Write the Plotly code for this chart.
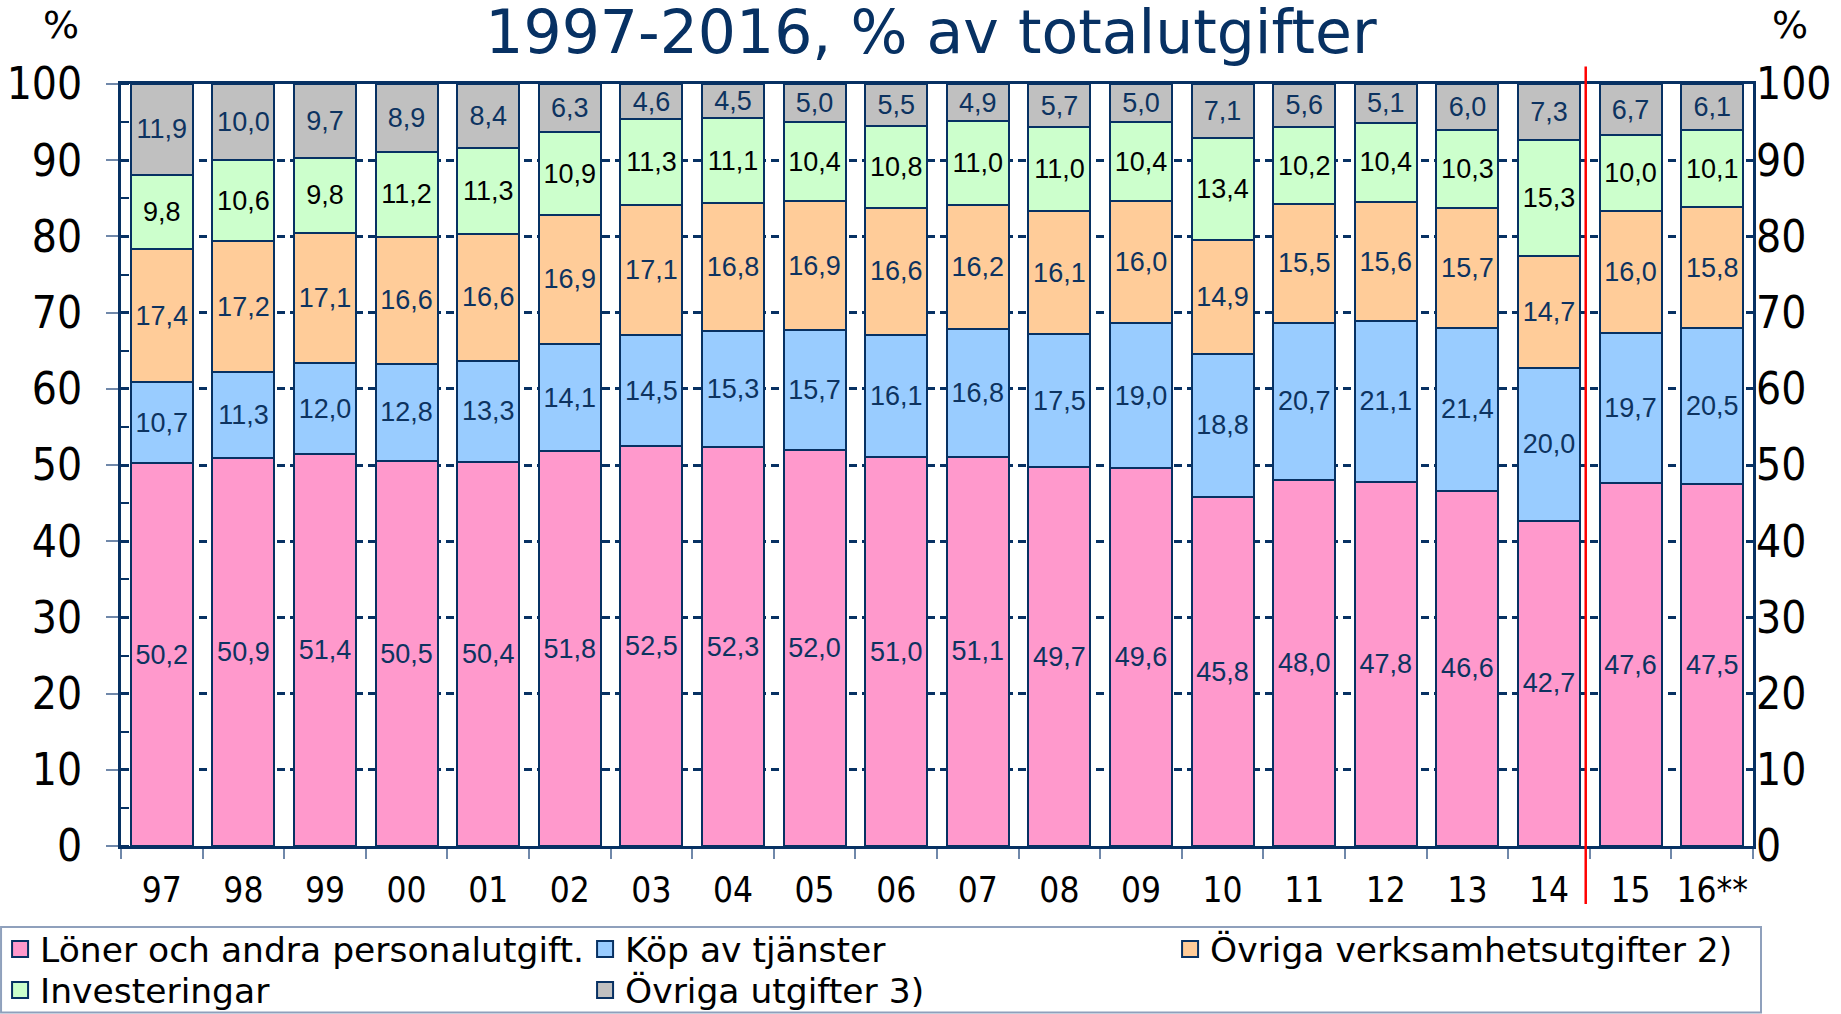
import plotly.graph_objects as go

years = ["97", "98", "99", "00", "01", "02", "03", "04", "05", "06",
         "07", "08", "09", "10", "11", "12", "13", "14", "15", "16**"]

loner = [50.2, 50.9, 51.4, 50.5, 50.4, 51.8, 52.5, 52.3, 52.0, 51.0,
         51.1, 49.7, 49.6, 45.8, 48.0, 47.8, 46.6, 42.7, 47.6, 47.5]
kop = [10.7, 11.3, 12.0, 12.8, 13.3, 14.1, 14.5, 15.3, 15.7, 16.1,
       16.8, 17.5, 19.0, 18.8, 20.7, 21.1, 21.4, 20.0, 19.7, 20.5]
ovr_verks = [17.4, 17.2, 17.1, 16.6, 16.6, 16.9, 17.1, 16.8, 16.9, 16.6,
             16.2, 16.1, 16.0, 14.9, 15.5, 15.6, 15.7, 14.7, 16.0, 15.8]
invest = [9.8, 10.6, 9.8, 11.2, 11.3, 10.9, 11.3, 11.1, 10.4, 10.8,
          11.0, 11.0, 10.4, 13.4, 10.2, 10.4, 10.3, 15.3, 10.0, 10.1]
ovr_utg = [11.9, 10.0, 9.7, 8.9, 8.4, 6.3, 4.6, 4.5, 5.0, 5.5,
           4.9, 5.7, 5.0, 7.1, 5.6, 5.1, 6.0, 7.3, 6.7, 6.1]

# (name, values, fill colour, label colour, legend row)
series = [
    ("Löner och andra personalutgift.", loner, "#FF99CC", "#0D3360", "legend"),
    ("Köp av tjänster", kop, "#99CCFF", "#0D3360", "legend"),
    ("Övriga verksamhetsutgifter 2)", ovr_verks, "#FFCC99", "#0D3360", "legend"),
    ("Investeringar", invest, "#CCFFCC", "#000000", "legend2"),
    ("Övriga utgifter 3)", ovr_utg, "#C0C0C0", "#0D3360", "legend2"),
]

NAVY = "#073163"
LBL_FONT = "Liberation Sans Narrow, Liberation Sans, Arial, sans-serif"
AX_FONT = "DejaVu Sans Condensed, DejaVu Sans, sans-serif"
REG_FONT = "DejaVu Sans, Verdana, sans-serif"

fig = go.Figure()
for name, vals, color, tcol, lg in series:
    fig.add_trace(go.Bar(
        x=years, y=vals, name=name, showlegend=False,
        marker=dict(color=color, line=dict(color=NAVY, width=2)),
        texttemplate="%{y:.1f}", textposition="inside",
        insidetextanchor="middle", textangle=0, constraintext="none",
        textfont=dict(family=LBL_FONT, size=27, color=tcol),
        hoverinfo="skip",
    ))

# legend entries with larger square symbols
for name, vals, color, tcol, lg in series:
    fig.add_trace(go.Scatter(
        x=[None], y=[None], mode="markers", name=name, legend=lg,
        marker=dict(symbol="square", size=16, color=color,
                    line=dict(color=NAVY, width=2)),
        showlegend=True, hoverinfo="skip",
    ))

# invisible trace for right axis
fig.add_trace(go.Scatter(x=[years[0]], y=[0], yaxis="y2", mode="markers",
                         marker=dict(opacity=0, size=1), showlegend=False,
                         hoverinfo="skip"))

# red separator between actual and forecast
fig.add_shape(type="line", xref="x", yref="paper", x0=17.45, x1=17.45,
              y0=-0.076, y1=1.023, line=dict(color="#FF0000", width=2.5))

# legend frame
fig.add_shape(type="rect", xref="paper", yref="paper",
              x0=-0.0735, x1=1.0049, y0=-0.1063, y1=-0.2185,
              line=dict(color="#8FA0BC", width=2), fillcolor="rgba(0,0,0,0)",
              layer="above")

fig.add_annotation(text="%", xref="paper", yref="paper", x=-0.0368, y=1.0768,
                   showarrow=False, font=dict(family=REG_FONT, size=38, color="#000"),
                   xanchor="center", yanchor="middle")
fig.add_annotation(text="%", xref="paper", yref="paper", x=1.0226, y=1.0768,
                   showarrow=False, font=dict(family=REG_FONT, size=38, color="#000"),
                   xanchor="center", yanchor="middle")

legend_common = dict(
    orientation="h", xref="paper", yref="paper", xanchor="left", yanchor="top",
    entrywidth=540, entrywidthmode="pixels", traceorder="normal",
    font=dict(family=REG_FONT, size=34.5, color="#000"),
    borderwidth=0, bgcolor="rgba(0,0,0,0)", itemsizing="trace",
    tracegroupgap=0,
)

fig.update_layout(
    width=1841, height=1014,
    barmode="stack", bargap=0.24,
    separators=", ",
    paper_bgcolor="white", plot_bgcolor="white",
    margin=dict(l=121, r=88, t=84, b=168, autoexpand=False),
    title=dict(text="1997-2016, % av totalutgifter", xref="container",
               x=0.5057, xanchor="center", yref="container", y=0.968,
               yanchor="middle",
               font=dict(family=REG_FONT, size=60, color=NAVY)),
    xaxis=dict(
        type="category", categoryorder="array", categoryarray=years,
        range=[-0.5, 19.5], autorange=False, automargin=False,
        showline=True, linecolor=NAVY, linewidth=3, mirror=True,
        ticks="outside", tickson="boundaries", ticklen=10,
        tickcolor="#7088AA", tickwidth=1.5, tickangle=0,
        tickfont=dict(family=AX_FONT, size=35, color="#000"),
        ticklabelstandoff=11,
        showgrid=False, zeroline=False,
    ),
    yaxis=dict(
        range=[0, 100], autorange=False, automargin=False, dtick=10, tick0=0,
        showline=True, linecolor=NAVY, linewidth=3, mirror=True,
        ticks="outside", ticklen=12, tickcolor="#7088AA", tickwidth=1.5,
        tickfont=dict(family=AX_FONT, size=44, color="#000"),
        ticklabelstandoff=15,
        showgrid=True, gridcolor=NAVY, gridwidth=3, griddash="8px,5px",
        zeroline=False,
        minor=dict(dtick=5, ticks="inside", ticklen=8, tickcolor=NAVY,
                   tickwidth=1.5, showgrid=False),
    ),
    yaxis2=dict(
        range=[0, 100], autorange=False, automargin=False, dtick=10, tick0=0,
        overlaying="y", side="right",
        showline=False, ticks="", showgrid=False, zeroline=False,
        tickfont=dict(family=AX_FONT, size=44, color="#000"),
        ticklabelstandoff=2,
    ),
    legend=dict(x=-0.0741, y=-0.0971, **legend_common),
    legend2=dict(x=-0.0741, y=-0.1509, **legend_common),
)

fig.write_html(
    "out.html",
    config={"displayModeBar": False},
    post_script="document.body.style.margin='0';document.body.style.overflow='hidden';",
)
